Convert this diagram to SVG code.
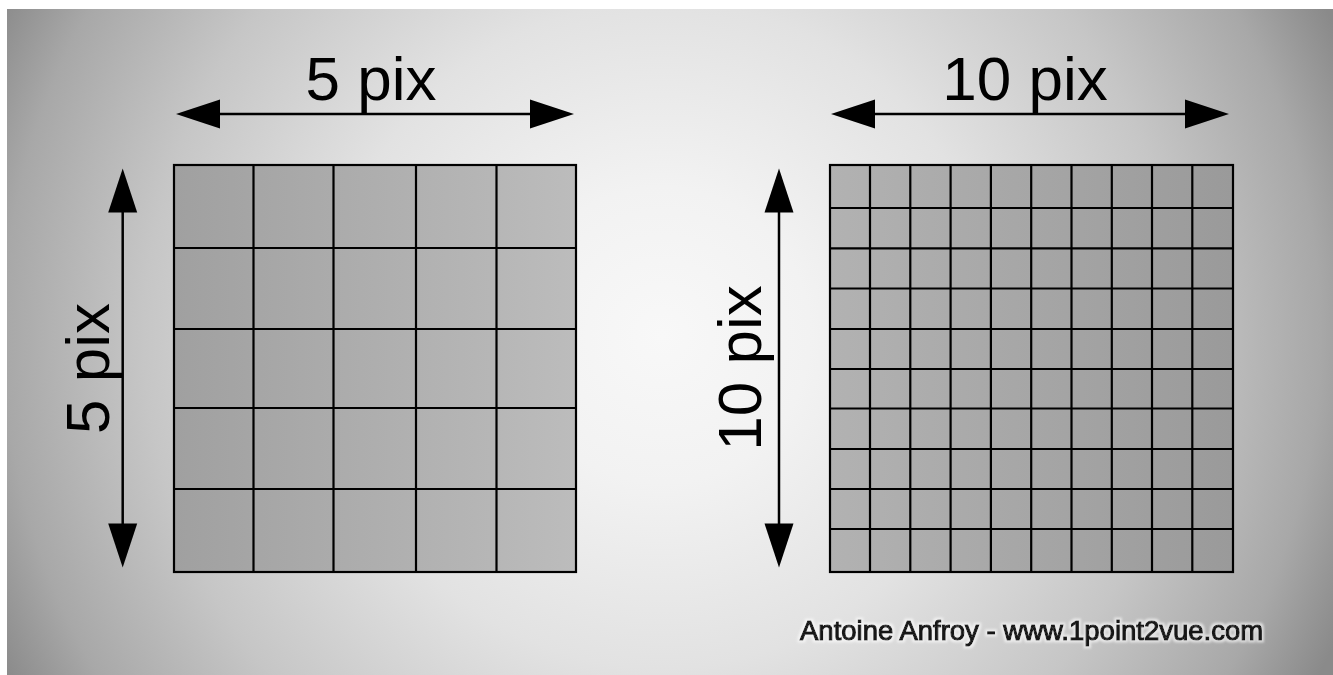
<svg xmlns="http://www.w3.org/2000/svg" width="1333" height="675" viewBox="0 0 1333 675">
  <defs>
    <radialGradient id="bg" gradientUnits="userSpaceOnUse" cx="662" cy="335" r="740">
      <stop offset="0" stop-color="#f8f8f8"/>
      <stop offset="0.2" stop-color="#f2f2f2"/>
      <stop offset="0.45" stop-color="#e2e2e2"/>
      <stop offset="0.7" stop-color="#c6c6c6"/>
      <stop offset="0.89" stop-color="#a8a8a8"/>
      <stop offset="1" stop-color="#8a8a8a"/>
    </radialGradient>
    <linearGradient id="gridL" x1="0" y1="0" x2="1" y2="0">
      <stop offset="0" stop-color="#a0a0a0"/>
      <stop offset="1" stop-color="#bcbcbc"/>
    </linearGradient>
    <linearGradient id="gridR" x1="0" y1="0" x2="1" y2="0">
      <stop offset="0" stop-color="#b2b2b2"/>
      <stop offset="1" stop-color="#9a9a9a"/>
    </linearGradient>
    <marker id="ah" markerUnits="userSpaceOnUse" markerWidth="48" markerHeight="34" viewBox="-2 -17 48 34" refX="1" refY="0" orient="auto-start-reverse">
      <path d="M0,-14.5 L44,0 L0,14.5 z" fill="#000"/>
    </marker>
    <filter id="halo" x="-5%" y="-30%" width="110%" height="160%">
      <feMorphology in="SourceAlpha" operator="dilate" radius="1.5" result="d"/>
      <feGaussianBlur in="d" stdDeviation="1" result="b"/>
      <feFlood flood-color="#ffffff" flood-opacity="0.6"/>
      <feComposite in2="b" operator="in" result="h"/>
      <feMerge><feMergeNode in="h"/><feMergeNode in="SourceGraphic"/></feMerge>
    </filter>
  </defs>
  <style>
    .grid { stroke: #000; stroke-width: 2.2; }
    .gl { fill: none; stroke: #000; stroke-width: 2.2; }
    .arrow { stroke: #000; stroke-width: 2.5; fill: none; marker-start: url(#ah); marker-end: url(#ah); }
    .lbl { font-family: "Liberation Sans", Arial, sans-serif; font-size: 62px; fill: #000; text-anchor: middle; }
    .credit { font-family: "Liberation Sans", Arial, sans-serif; font-size: 27.5px; fill: #151515; stroke: #151515; stroke-width: 1.2; }
  </style>

  <rect x="0" y="0" width="1333" height="675" fill="#ffffff"/>
  <rect x="7" y="9" width="1326" height="666" fill="url(#bg)"/>

  <g id="grid-5x5">
    <rect class="grid" x="174" y="165" width="402" height="407" fill="url(#gridL)"/>
    <path class="gl" d="M253.5,165V572 M333.5,165V572 M416,165V572 M496.5,165V572 M174,248H576 M174,329H576 M174,408H576 M174,489H576"/>
  </g>

  <g id="grid-10x10">
    <rect class="grid" x="830" y="165" width="403" height="407" fill="url(#gridR)"/>
    <path class="gl" d="M870,165V572 M910.3,165V572 M950.6,165V572 M990.9,165V572 M1031.2,165V572 M1071.5,165V572 M1111.8,165V572 M1152,165V572 M1192.3,165V572 M830,208H1233 M830,248.3H1233 M830,288.5H1233 M830,329H1233 M830,369H1233 M830,408.5H1233 M830,449H1233 M830,489H1233 M830,529H1233"/>
  </g>

  <g id="connectors">
    <line class="arrow" x1="219" y1="114" x2="531" y2="114"/>
    <line class="arrow" x1="122.7" y1="211.5" x2="122.7" y2="524.5"/>
    <line class="arrow" x1="874" y1="114" x2="1186" y2="114"/>
    <line class="arrow" x1="779" y1="211.5" x2="779" y2="524.5"/>
  </g>

  <g id="labels">
    <text class="lbl" x="371" y="100">5 pix</text>
    <text class="lbl" transform="translate(108.5,368.5) rotate(-90)">5 pix</text>
    <text class="lbl" x="1025" y="100">10 pix</text>
    <text class="lbl" transform="translate(761,368) rotate(-90)">10 pix</text>
  </g>

  <g id="credit" filter="url(#halo)">
    <text class="credit" x="800" y="640">Antoine Anfroy - www.1point2vue.com</text>
  </g>
</svg>
